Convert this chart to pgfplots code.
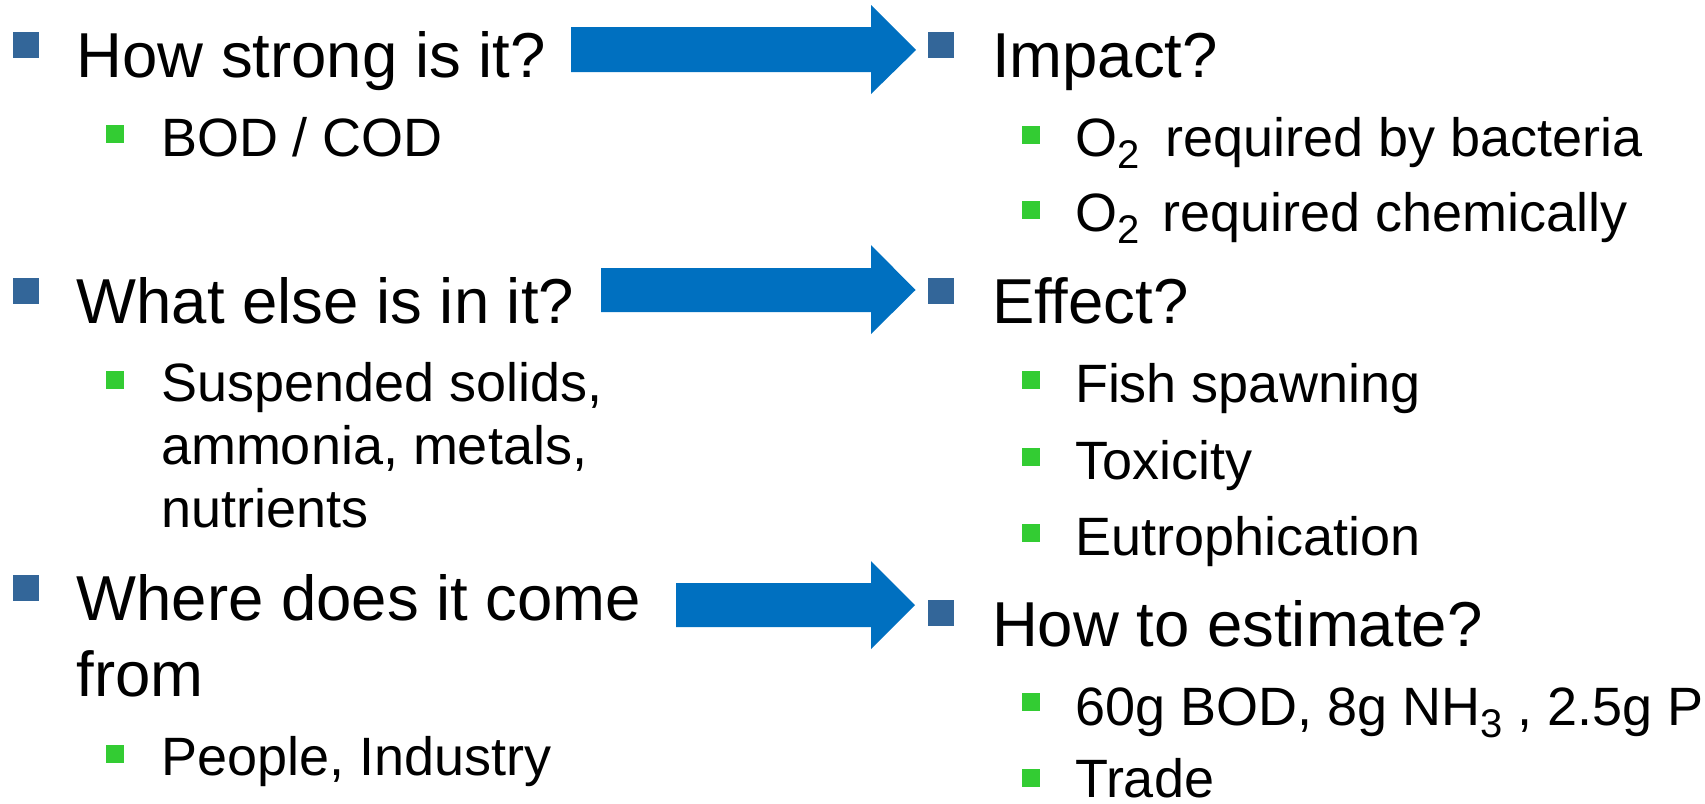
\documentclass[border=0pt]{standalone}
\usepackage{pgfplots}
\pgfplotsset{compat=1.18}
\usepackage{fontspec}
\setmainfont{Liberation Sans}
\definecolor{bulletblue}{HTML}{336699}
\definecolor{bulletgreen}{HTML}{33CC33}
\definecolor{arrowblue}{HTML}{0070C0}
\newcommand\Lmain{\fontsize{31.75}{38}\selectfont}
\newcommand\Lsub{\fontsize{27}{32}\selectfont}
\newcommand\sub[1]{\raisebox{-6pt}{\fontsize{20}{20}\selectfont #1}}
\tikzset{txt/.style={anchor=base west, inner sep=0pt, outer sep=0pt, text=black}}
\begin{document}
\begin{tikzpicture}
\begin{axis}[
  scale only axis, width=852.5pt, height=402pt,
  xmin=0, xmax=1705, ymin=0, ymax=804, y dir=reverse,
  hide axis, clip=false, anchor=south west, at={(0,0)}
]
% arrows
\addplot[fill=arrowblue, draw=none] coordinates {(571,27) (871,27) (871,5) (916,50) (871,94) (871,72) (571,72)} -- cycle;
\addplot[fill=arrowblue, draw=none] coordinates {(601,268) (871,268) (871,245) (915.5,290) (871,334) (871,312) (601,312)} -- cycle;
\addplot[fill=arrowblue, draw=none] coordinates {(676,583) (871,583) (871,561) (915,605) (871,649) (871,627) (676,627)} -- cycle;
% level-1 bullets
\addplot[fill=bulletblue, draw=none] coordinates {(13,32) (39,32) (39,58) (13,58)} -- cycle;
\addplot[fill=bulletblue, draw=none] coordinates {(13,278) (39,278) (39,304) (13,304)} -- cycle;
\addplot[fill=bulletblue, draw=none] coordinates {(13,575) (39,575) (39,601) (13,601)} -- cycle;
\addplot[fill=bulletblue, draw=none] coordinates {(928,32) (954,32) (954,58) (928,58)} -- cycle;
\addplot[fill=bulletblue, draw=none] coordinates {(928,278) (954,278) (954,304) (928,304)} -- cycle;
\addplot[fill=bulletblue, draw=none] coordinates {(928,600) (954,600) (954,626) (928,626)} -- cycle;
% level-2 bullets left
\addplot[fill=bulletgreen, draw=none] coordinates {(106,125) (124,125) (124,143) (106,143)} -- cycle;
\addplot[fill=bulletgreen, draw=none] coordinates {(106,371) (124,371) (124,389) (106,389)} -- cycle;
\addplot[fill=bulletgreen, draw=none] coordinates {(106,745) (124,745) (124,763) (106,763)} -- cycle;
% level-2 bullets right
\addplot[fill=bulletgreen, draw=none] coordinates {(1022,126) (1040,126) (1040,144) (1022,144)} -- cycle;
\addplot[fill=bulletgreen, draw=none] coordinates {(1022,201) (1040,201) (1040,219) (1022,219)} -- cycle;
\addplot[fill=bulletgreen, draw=none] coordinates {(1022,371) (1040,371) (1040,389) (1022,389)} -- cycle;
\addplot[fill=bulletgreen, draw=none] coordinates {(1022,448) (1040,448) (1040,466) (1022,466)} -- cycle;
\addplot[fill=bulletgreen, draw=none] coordinates {(1022,524) (1040,524) (1040,542) (1022,542)} -- cycle;
\addplot[fill=bulletgreen, draw=none] coordinates {(1022,693) (1040,693) (1040,711) (1022,711)} -- cycle;
\addplot[fill=bulletgreen, draw=none] coordinates {(1022,769) (1040,769) (1040,787) (1022,787)} -- cycle;
% left texts
\node[txt, font=\Lmain] at (axis cs:76.5,77.3) {How strong is it?};
\node[txt, font=\Lmain] at (axis cs:76.5,323.3) {What else is in it?};
\node[txt, font=\Lmain] at (axis cs:76.5,620) {Where does it come};
\node[txt, font=\Lmain] at (axis cs:76.5,696) {from};
\node[txt, font=\Lsub] at (axis cs:161,156) {BOD / COD};
\node[txt, font=\Lsub] at (axis cs:161,401.7) {Suspended solids,};
\node[txt, font=\Lsub] at (axis cs:161,464.5) {ammonia, metals,};
\node[txt, font=\Lsub] at (axis cs:161,527) {nutrients};
\node[txt, font=\Lsub] at (axis cs:161,775) {People, Industry};
% right texts
\node[txt, font=\Lmain] at (axis cs:992,77.3) {Impact?};
\node[txt, font=\Lmain] at (axis cs:992,323.3) {Effect?};
\node[txt, font=\Lmain] at (axis cs:992,646) {How to estimate?};
\node[txt, font=\Lsub] at (axis cs:1075,156.7) {O\sub{2}\hspace{13pt}required by bacteria};
\node[txt, font=\Lsub] at (axis cs:1075,231.7) {O\sub{2}\hspace{11.5pt}required chemically};
\node[txt, font=\Lsub] at (axis cs:1075,402.3) {Fish spawning};
\node[txt, font=\Lsub] at (axis cs:1075,479.3) {Toxicity};
\node[txt, font=\Lsub] at (axis cs:1075,555) {Eutrophication};
\node[txt, font=\Lsub] at (axis cs:1075,725) {60g BOD, 8g NH\sub{3} , 2.5g P};
\node[txt, font=\Lsub] at (axis cs:1075,797) {Trade};
\end{axis}
\pgfresetboundingbox
\useasboundingbox (0,0) rectangle (852.5pt,402pt);
\end{tikzpicture}
\end{document}
